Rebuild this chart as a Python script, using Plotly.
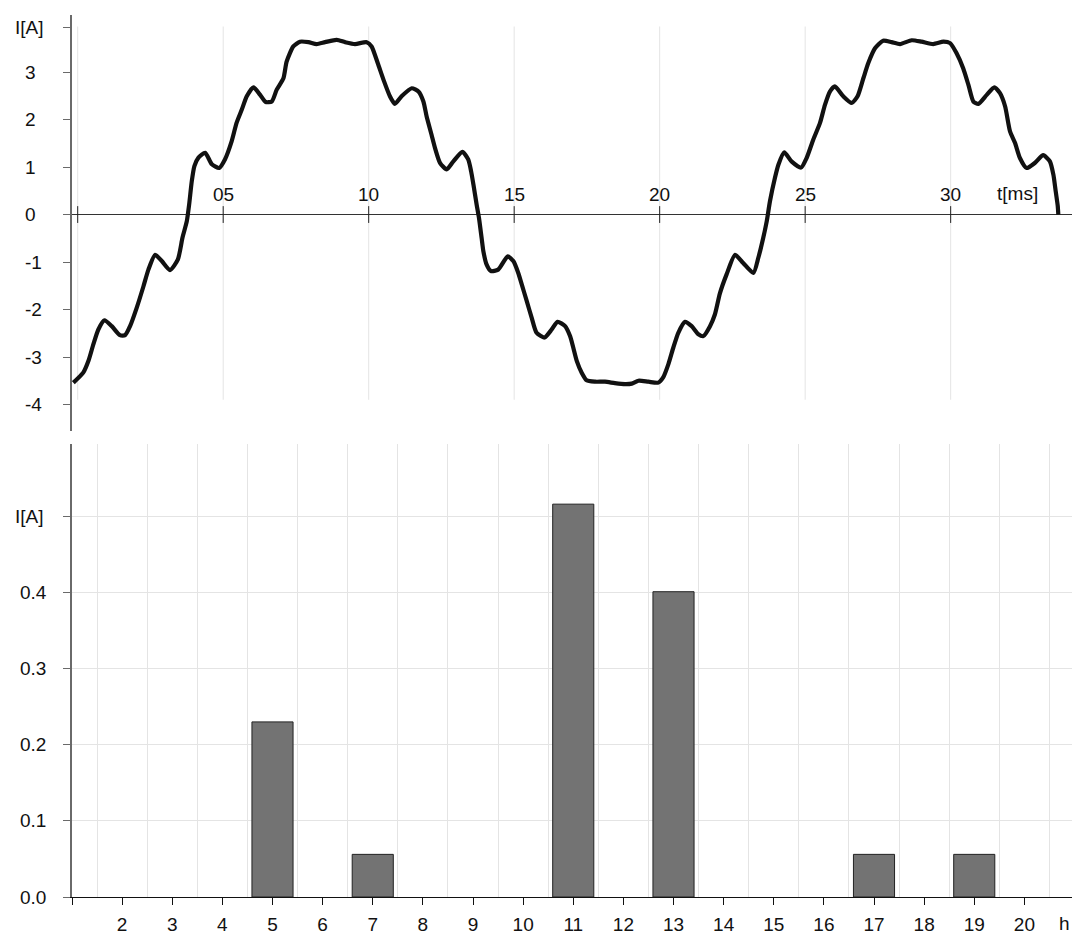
import plotly.graph_objects as go

# Current waveform samples: time [ms] and current [A]
t_ms = [
    -0.15, 0.19, 0.37, 0.54, 0.71, 0.92, 1.17, 1.45, 1.63, 1.80, 2.03, 2.26, 2.43,
    2.66, 2.89, 3.17, 3.44, 3.60, 3.75, 3.83, 3.92, 4.01, 4.15, 4.38, 4.61, 4.86,
    5.06, 5.29, 5.46, 5.64, 5.81, 6.04, 6.27, 6.46, 6.67, 6.84, 7.07, 7.18, 7.41,
    7.64, 7.93, 8.21, 8.50, 8.90, 9.19, 9.53, 9.93, 10.10, 10.31, 10.52, 10.73,
    10.90, 11.13, 11.48, 11.71, 11.88, 11.99, 12.16, 12.28, 12.45, 12.68, 12.91,
    13.22, 13.42, 13.52, 13.60, 13.71, 13.79, 13.88, 13.94, 14.05, 14.20, 14.45,
    14.78, 14.97, 15.14, 15.26, 15.43, 15.60, 15.77, 16.04, 16.29, 16.49, 16.75,
    16.92, 17.03, 17.15, 17.32, 17.49, 17.78, 18.12, 18.46, 18.81, 19.04, 19.27,
    19.61, 19.95, 20.12, 20.30, 20.47, 20.64, 20.87, 21.10, 21.33, 21.50, 21.73,
    21.90, 22.07, 22.30, 22.59, 22.87, 23.22, 23.39, 23.56, 23.68, 23.79, 23.96,
    24.08, 24.28, 24.53, 24.86, 25.05, 25.28, 25.51, 25.68, 25.85, 26.02, 26.31,
    26.60, 26.80, 27.00, 27.17, 27.40, 27.68, 27.97, 28.26, 28.66, 29.00, 29.40,
    29.75, 29.98, 30.20, 30.43, 30.61, 30.78, 30.95, 31.24, 31.50, 31.69, 31.87,
    32.04, 32.21, 32.38, 32.61, 32.90, 33.18, 33.41, 33.53, 33.61, 33.68, 33.70,
]
i_amp = [
    -3.54, -3.33, -3.08, -2.73, -2.42, -2.23, -2.35, -2.54, -2.54, -2.35, -1.96, -1.51, -1.16,
    -0.85, -0.98, -1.17, -0.95, -0.49, -0.14, 0.21, 0.70, 1.02, 1.20, 1.30, 1.06, 0.98,
    1.16, 1.54, 1.93, 2.21, 2.49, 2.68, 2.52, 2.37, 2.38, 2.63, 2.87, 3.22, 3.54,
    3.64, 3.63, 3.59, 3.63, 3.68, 3.63, 3.59, 3.63, 3.54, 3.19, 2.82, 2.49,
    2.33, 2.49, 2.66, 2.59, 2.38, 2.07, 1.68, 1.40, 1.09, 0.95, 1.12,
    1.32, 1.16, 0.91, 0.63, 0.21, -0.07, -0.49, -0.77, -1.05, -1.19, -1.16,
    -0.88, -0.98, -1.23, -1.47, -1.82, -2.17, -2.49, -2.59, -2.42, -2.26, -2.35,
    -2.56, -2.80, -3.08, -3.33, -3.49, -3.52, -3.52, -3.55, -3.57, -3.56, -3.50,
    -3.52, -3.54, -3.43, -3.15, -2.80, -2.49, -2.26, -2.35, -2.52, -2.56, -2.35,
    -2.10, -1.66, -1.26, -0.85, -1.02, -1.23, -0.91, -0.49, -0.14, 0.28, 0.77,
    1.05, 1.31, 1.12, 0.99, 1.19, 1.58, 1.93, 2.31, 2.59, 2.70, 2.49,
    2.35, 2.49, 2.87, 3.19, 3.50, 3.66, 3.63, 3.59, 3.67, 3.64, 3.59,
    3.64, 3.61, 3.40, 3.08, 2.73, 2.38, 2.33, 2.52, 2.68, 2.56, 2.28,
    1.75, 1.51, 1.19, 0.98, 1.09, 1.25, 1.12, 0.84, 0.49, 0.18, 0.00,
]

# Harmonic spectrum: order h and amplitude [A]
harmonic_order = [5, 7, 11, 13, 17, 19]
harmonic_amp = [0.23, 0.056, 0.516, 0.401, 0.056, 0.056]

# Axis ticks and labels
wave_y_ticks = [-4, -3, -2, -1, 0, 1, 2, 3]
wave_y_labels = ["-4", "-3", "-2", "-1", "0", "1", "2", "3"]
wave_unit_pos = 3.93
time_ticks = [0, 5, 10, 15, 20, 25, 30]
time_labels = ["", "05", "10", "15", "20", "25", "30"]
time_unit_pos = 32.3
spec_y_ticks = [0.0, 0.1, 0.2, 0.3, 0.4]
spec_y_labels = ["0.0", "0.1", "0.2", "0.3", "0.4"]
spec_unit_pos = 0.5
order_ticks = list(range(1, 21))
order_labels = [""] + [str(h) for h in range(2, 21)]
order_grid = [h + 0.5 for h in range(1, 21)]

FONT = "Liberation Sans, Arial, sans-serif"
FS = 19
GRID = "#e4e4e4"
AXIS_GRAY = "#6a6a6a"

fig = go.Figure()

# vertical grid lines of the waveform panel
for t in time_ticks:
    fig.add_shape(type="line", xref="x", yref="y", x0=t, x1=t, y0=-3.9, y1=3.96,
                  line=dict(color=GRID, width=1), layer="below")

fig.add_trace(go.Scatter(
    x=t_ms, y=i_amp, mode="lines", xaxis="x", yaxis="y",
    line=dict(color="#111111", width=4.2, shape="spline", smoothing=0.6),
    hoverinfo="skip",
))

# tick marks crossing the time axis
fig.add_trace(go.Scatter(
    x=time_ticks, y=[0] * len(time_ticks), mode="markers", xaxis="x", yaxis="y",
    marker=dict(symbol="line-ns-open", size=12, color="#222222",
                line=dict(color="#222222", width=1)),
    hoverinfo="skip",
))

fig.add_trace(go.Bar(
    x=harmonic_order, y=harmonic_amp, width=0.82, xaxis="x2", yaxis="y2",
    marker=dict(color="#737373", line=dict(color="#222222", width=1)),
    hoverinfo="skip",
))

annotations = []
for v, txt in zip(wave_y_ticks, wave_y_labels):
    annotations.append(dict(x=0, xref="paper", xshift=-49, xanchor="left",
                            y=v, yref="y", yanchor="middle", text=txt, showarrow=False))
annotations.append(dict(x=0, xref="paper", xshift=-59, xanchor="left",
                        y=wave_unit_pos, yref="y", yanchor="middle", text="I[A]", showarrow=False))
for v, txt in zip(time_ticks, time_labels):
    if txt:
        annotations.append(dict(x=v, xref="x", y=0, yref="y", yanchor="bottom", yshift=8,
                                text=txt, showarrow=False))
annotations.append(dict(x=time_unit_pos, xref="x", y=0, yref="y", yanchor="bottom", yshift=9,
                        text="t[ms]", showarrow=False))
for v, txt in zip(spec_y_ticks, spec_y_labels):
    annotations.append(dict(x=0, xref="paper", xshift=-54, xanchor="left",
                            y=v, yref="y2", yanchor="middle", text=txt, showarrow=False))
annotations.append(dict(x=0, xref="paper", xshift=-59, xanchor="left",
                        y=spec_unit_pos, yref="y2", yanchor="middle", text="I[A]", showarrow=False))
annotations.append(dict(x=1, xref="paper", xshift=0, y=0, yref="y2", yanchor="top", yshift=-14,
                        xanchor="right", text="h", showarrow=False))

fig.update_layout(
    width=1072, height=935,
    margin=dict(l=72, r=0, t=15, b=36),
    paper_bgcolor="white", plot_bgcolor="white",
    showlegend=False,
    font=dict(family=FONT, size=FS, color="#111111"),
    annotations=annotations,
    xaxis=dict(domain=[0, 1], anchor="y", range=[-0.196, 34.17],
               showgrid=False, showline=False, zeroline=False, showticklabels=False, ticks=""),
    yaxis=dict(domain=[0.5283, 1], anchor="x", range=[-4.559, 4.202],
               tickvals=wave_y_ticks + [wave_unit_pos], showticklabels=False,
               ticks="outside", ticklen=7, tickcolor=AXIS_GRAY, tickwidth=1,
               showline=True, linecolor=AXIS_GRAY, linewidth=2,
               showgrid=False, zeroline=True, zerolinecolor="#333333", zerolinewidth=1),
    xaxis2=dict(domain=[0, 1], anchor="y2", range=[1, 20.95],
                tickvals=order_ticks, ticktext=order_labels,
                ticks="outside", ticklen=7, tickcolor="#111111", tickwidth=1,
                ticklabelstandoff=3,
                tickfont=dict(size=FS), showline=True, linecolor="#111111", linewidth=1,
                showgrid=False, zeroline=False,
                minor=dict(tickvals=order_grid, showgrid=True, gridcolor=GRID, gridwidth=1, ticks="")),
    yaxis2=dict(domain=[0, 0.5136], anchor="x2", range=[0, 0.595],
                tickvals=spec_y_ticks + [spec_unit_pos], showticklabels=False,
                ticks="outside", ticklen=7, tickcolor=AXIS_GRAY, tickwidth=1,
                showline=True, linecolor=AXIS_GRAY, linewidth=2,
                showgrid=True, gridcolor=GRID, gridwidth=1, zeroline=False),
)

fig.write_html("out.html")
